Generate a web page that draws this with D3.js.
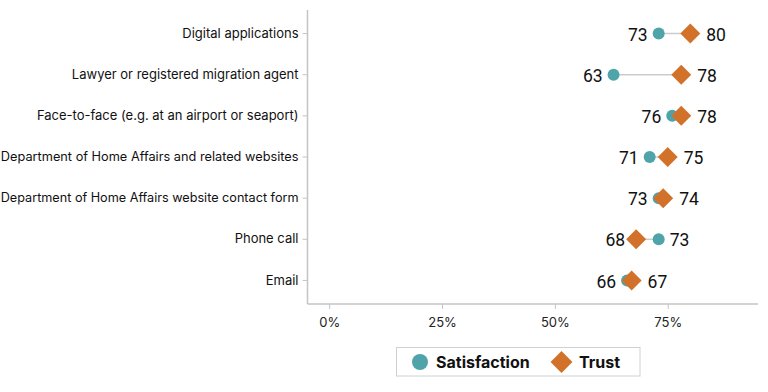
<!DOCTYPE html>
<html><head><meta charset="utf-8">
<script src="https://cdn.jsdelivr.net/npm/d3@7"></script>
<style>body{margin:0;background:#fff;font-family:Inter,"Noto Sans",sans-serif;}</style>
</head><body><svg id="c" width="768" height="392"></svg>
<script>
const categories = ["Digital applications","Lawyer or registered migration agent","Face-to-face (e.g. at an airport or seaport)","Department of Home Affairs and related websites","Department of Home Affairs website contact form","Phone call","Email"];
const satisfaction = [73,63,76,71,73,73,66];
const trust = [80,78,78,75,74,68,67];
const xTicks = [0,25,50,75];
const seriesNames = ["Satisfaction","Trust"];
const colors = {Satisfaction:"#4fa4aa", Trust:"#d2722a"};

const svg = d3.select("#c");
const x = d3.scaleLinear().domain([-4.8,95]).range([307.5,758]);
const y = d3.scaleBand().domain(categories).range([13,301]);
const yc = d => y(d)+y.bandwidth()/2;
const font = "Inter, 'Noto Sans', sans-serif";
const vfont = "Roboto, 'Noto Sans', sans-serif";

// axes
const yAxis = svg.append("g").attr("transform","translate(307.5,0)")
  .call(d3.axisLeft(y).tickSize(5).tickPadding(4).tickSizeOuter(0));
yAxis.select(".domain").attr("d","M0,10V304").attr("stroke","#c4c4c4").attr("stroke-width",1.5);
yAxis.selectAll(".tick line").attr("stroke","#c4c4c4");
const yl = yAxis.selectAll(".tick text").attr("font-size",13).attr("font-family",font).attr("fill","#111");
// shrink any label that would not fit in the left margin
yl.each(function(){
  const w = this.getComputedTextLength();
  if (w > 298) d3.select(this).attr("font-size", 13*298/w);
});

const xAxis = svg.append("g").attr("transform","translate(0,304)")
  .call(d3.axisBottom(x).tickValues(xTicks).tickFormat(d=>d+"%").tickSize(5).tickPadding(9).tickSizeOuter(0));
xAxis.select(".domain").attr("d","M307.5,0H758").attr("stroke","#c4c4c4").attr("stroke-width",1.5);
xAxis.selectAll(".tick line").attr("stroke","#c4c4c4");
xAxis.selectAll(".tick text").attr("font-size",13).attr("font-family",font).attr("fill","#222");

const rows = categories.map((c,i)=>({c, s:satisfaction[i], t:trust[i]}));
const g = svg.append("g");
g.selectAll("line.conn").data(rows).join("line").attr("class","conn")
  .attr("x1",d=>x(d.s)).attr("x2",d=>x(d.t)).attr("y1",d=>yc(d.c)).attr("y2",d=>yc(d.c))
  .attr("stroke","#cccccc").attr("stroke-width",1.5);
const diamond = d3.symbol().type(d3.symbolSquare).size(200);
g.selectAll("circle.s").data(rows).join("circle").attr("class","s")
  .attr("cx",d=>x(d.s)).attr("cy",d=>yc(d.c)).attr("r",6).attr("fill",colors.Satisfaction);
g.selectAll("path.t").data(rows).join("path").attr("class","t")
  .attr("d",diamond).attr("transform",d=>`translate(${x(d.t)},${yc(d.c)}) rotate(45)`)
  .attr("fill",colors.Trust);

// value labels
rows.forEach(d=>{
  const lo = d.s<=d.t ? {v:d.s, k:"s"} : {v:d.t, k:"t"};
  const hi = d.s<=d.t ? {v:d.t, k:"t"} : {v:d.s, k:"s"};
  g.append("text").attr("x",x(lo.v)-11).attr("y",yc(d.c)+1).attr("dy","0.35em")
    .attr("text-anchor","end").attr("font-size",17.5).attr("font-family",vfont).attr("fill","#111").text(lo.v);
  g.append("text").attr("x",x(hi.v)+(hi.k==="t"?16:11)).attr("y",yc(d.c)+1).attr("dy","0.35em")
    .attr("text-anchor","start").attr("font-size",17.5).attr("font-family",vfont).attr("fill","#111").text(hi.v);
});

// legend
const lg = svg.append("g");
lg.append("rect").attr("x",396.5).attr("y",347.5).attr("width",243.5).attr("height",28.5)
  .attr("fill","#fff").attr("stroke","#d0d0d0");
lg.append("circle").attr("cx",420).attr("cy",362).attr("r",8).attr("fill",colors.Satisfaction);
lg.append("text").attr("x",436).attr("y",362).attr("dy","0.35em").attr("font-size",16).attr("font-weight","bold")
  .attr("font-family",font).attr("fill","#111").text(seriesNames[0]);
lg.append("path").attr("d",d3.symbol().type(d3.symbolSquare).size(240))
  .attr("transform","translate(561.5,362) rotate(45)").attr("fill",colors.Trust);
lg.append("text").attr("x",579).attr("y",362).attr("dy","0.35em").attr("font-size",16).attr("font-weight","bold")
  .attr("font-family",font).attr("fill","#111").text(seriesNames[1]);
</script></body></html>
